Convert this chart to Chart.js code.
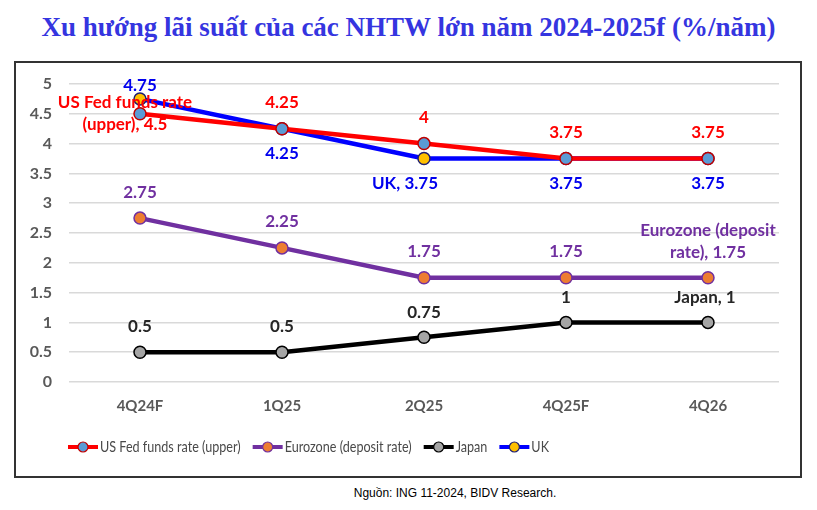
<!DOCTYPE html>
<html>
<head>
<meta charset="utf-8">
<script src="https://cdn.jsdelivr.net/npm/chart.js@4"></script>
<style>
  body { margin: 0; background: #fff; width: 817px; height: 510px; position: relative; overflow: hidden; }
  #title { position: absolute; top: 12px; left: 0; width: 817px; text-align: center;
    font: bold 27px "Liberation Serif", serif; color: #3535e0; }
  #box { position: absolute; left: 14px; top: 61px; width: 788px; height: 417px;
    box-sizing: border-box; border: 2px solid #333; }
  #wrap { position: absolute; left: 14px; top: 61px; width: 788px; height: 417px; }
  #src { position: absolute; top: 486px; left: 0; width: 910px; text-align: center;
    font: 12px "Liberation Sans", sans-serif; color: #000; }
</style>
</head>
<body>
<div id="title">Xu hướng lãi suất của các NHTW lớn năm 2024-2025f (%/năm)</div>
<div id="box"></div>
<div id="wrap"><canvas id="rateChart"></canvas></div>
<div id="src">Nguồn: ING 11-2024, BIDV Research.</div>
<script>
// DATA
const quarters = ['4Q24F', '1Q25', '2Q25', '4Q25F', '4Q26'];
const usFed = [4.5, 4.25, 4, 3.75, 3.75];
const eurozone = [2.75, 2.25, 1.75, 1.75, 1.75];
const japan = [0.5, 0.5, 0.75, 1, 1];
const uk = [4.75, 4.25, 3.75, 3.75, 3.75];
const yTicks = [0, 0.5, 1, 1.5, 2, 2.5, 3, 3.5, 4, 4.5, 5];

// label text for each point (mostly the value itself)
const txt = (arr, special) => arr.map((v, i) => special[i] !== undefined ? special[i] : String(v));
const usFedText = txt(usFed, { 0: 'US Fed funds rate\n(upper), 4.5' });
const eurozoneText = txt(eurozone, { 4: 'Eurozone (deposit\nrate), 1.75' });
const japanText = txt(japan, { 4: 'Japan, 1' });
const ukText = txt(uk, { 2: 'UK, 3.75' });

const LABEL_FONT = 'bold 17px Lato, "Open Sans", sans-serif';

// draws the value labels next to the points
const valueLabels = {
  id: 'valueLabels',
  afterDatasetsDraw(chart) {
    const ctx = chart.ctx;
    ctx.save();
    ctx.font = LABEL_FONT;
    ctx.textAlign = 'center';
    ctx.textBaseline = 'middle';
    chart.data.datasets.forEach((ds, di) => {
      const meta = chart.getDatasetMeta(di);
      ds.labelText.forEach((t, i) => {
        const p = meta.data[i];
        const off = ds.labelOffset[i];
        ctx.fillStyle = ds.labelColor;
        t.split('\n').forEach((line, li) => ctx.fillText(line, p.x + off[0], p.y + off[1] + li * 22));
      });
    });
    ctx.restore();
  }
};

// legend with line + circle markers (text squeezed a bit, like Calibri)
const lineLegend = {
  id: 'lineLegend',
  afterDraw(chart) {
    const ctx = chart.ctx;
    const squeeze = 0.84;
    ctx.save();
    ctx.font = '15px Lato, sans-serif';
    ctx.textBaseline = 'middle';
    let x = 54;
    const y = 386;
    chart.data.datasets.forEach(ds => {
      ctx.strokeStyle = ds.borderColor;
      ctx.lineWidth = 4;
      ctx.beginPath();
      ctx.moveTo(x, y);
      ctx.lineTo(x + 30, y);
      ctx.stroke();
      ctx.beginPath();
      ctx.arc(x + 15, y, 5, 0, Math.PI * 2);
      ctx.fillStyle = ds.pointBackgroundColor;
      ctx.fill();
      ctx.lineWidth = 1.2;
      ctx.strokeStyle = ds.pointBorderColor;
      ctx.stroke();
      ctx.save();
      ctx.translate(x + 32, y);
      ctx.scale(squeeze, 1);
      ctx.fillStyle = '#4a4a4a';
      ctx.fillText(ds.label, 0, 0);
      ctx.restore();
      x += 32 + ctx.measureText(ds.label).width * squeeze + 12;
    });
    ctx.restore();
  }
};

new Chart(rateChart, {
  type: 'line',
  data: {
    labels: quarters,
    datasets: [{
      label: 'US Fed funds rate (upper)',
      data: usFed,
      borderColor: '#ff0000',
      pointBackgroundColor: '#5b9bd5',
      pointBorderColor: '#c00000',
      labelText: usFedText,
      labelColor: '#ff0000',
      labelOffset: [[-15, -11], [0, -26], [0, -26], [0, -26], [0, -26]]
    }, {
      label: 'Eurozone (deposit rate)',
      data: eurozone,
      borderColor: '#7030a0',
      pointBackgroundColor: '#ed7d31',
      pointBorderColor: '#7030a0',
      labelText: eurozoneText,
      labelColor: '#7030a0',
      labelOffset: [[0, -26], [0, -26], [0, -26], [0, -26], [0, -47]]
    }, {
      label: 'Japan',
      data: japan,
      borderColor: '#000000',
      pointBackgroundColor: '#a5a5a5',
      pointBorderColor: '#000000',
      labelText: japanText,
      labelColor: '#262626',
      labelOffset: [[0, -26], [0, -26], [0, -25], [0, -25], [-3, -25]]
    }, {
      label: 'UK',
      data: uk,
      borderColor: '#0000ff',
      pointBackgroundColor: '#ffc000',
      pointBorderColor: '#1f1f70',
      labelText: ukText,
      labelColor: '#0000ee',
      labelOffset: [[0, -13], [0, 25], [-19, 25], [0, 25], [0, 25]]
    }]
  },
  options: {
    responsive: true,
    maintainAspectRatio: false,
    animation: false,
    layout: { autoPadding: false, padding: { left: 0, top: 23, right: 23, bottom: 0 } },
    elements: {
      line: { borderWidth: 4.5, tension: 0 },
      point: { radius: 6, borderWidth: 1.5 }
    },
    plugins: { legend: { display: false }, tooltip: { enabled: false } },
    scales: {
      x: {
        offset: true,
        grid: { display: false },
        border: { display: false },
        afterFit: s => { s.height = 96; },
        ticks: { color: '#595959', font: { family: 'Lato', size: 15, weight: 'bold' }, padding: 7 }
      },
      y: {
        min: 0,
        max: 5,
        afterBuildTicks: s => { s.ticks = yTicks.map(v => ({ value: v })); },
        afterFit: s => { s.width = 55; s.paddingTop = 0; s.paddingBottom = 0; },
        border: { display: false },
        grid: { color: '#d9d9d9', lineWidth: 1.5, drawTicks: false },
        ticks: { color: '#595959', font: { family: 'Lato', size: 16, weight: 'bold' }, padding: 17,
          callback: v => String(v) }
      }
    }
  },
  plugins: [valueLabels, lineLegend]
});
</script>
</body>
</html>
